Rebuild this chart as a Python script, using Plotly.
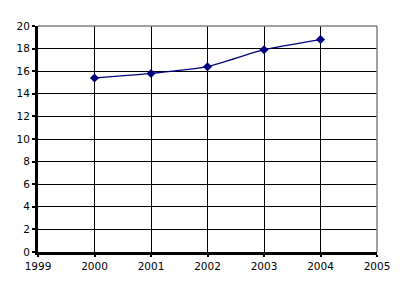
import plotly.graph_objects as go

years = [2000, 2001, 2002, 2003, 2004]
values = [15.4, 15.8, 16.4, 17.9, 18.8]
x_ticks = [1999, 2000, 2001, 2002, 2003, 2004, 2005]
y_ticks = list(range(0, 21, 2))

fig = go.Figure()
fig.add_trace(go.Scatter(
    x=years, y=values, mode="lines+markers",
    line=dict(color="#000080", width=1.3, shape="spline", smoothing=0.6),
    marker=dict(symbol="diamond", size=7, color="#000080"),
))
fig.update_layout(
    width=406, height=296,
    margin=dict(l=38, r=29, t=26, b=44),
    paper_bgcolor="white", plot_bgcolor="white",
    showlegend=False,
    font=dict(family="DejaVu Sans", size=10.5, color="black"),
    shapes=[
        dict(type="line", xref="paper", yref="paper", x0=0, x1=1, y0=1, y1=1,
             line=dict(color="#808080", width=1.5)),
        dict(type="line", xref="paper", yref="paper", x0=1, x1=1, y0=0, y1=1,
             line=dict(color="#808080", width=1.5)),
    ],
)
fig.update_xaxes(
    range=[1999, 2005], tickvals=x_ticks, ticktext=[str(v) for v in x_ticks],
    showgrid=True, gridcolor="black", gridwidth=1,
    showline=True, linecolor="black", linewidth=3,
    ticks="outside", ticklen=2, tickwidth=2, tickcolor="black",
    zeroline=False,
)
fig.update_yaxes(
    range=[0, 20], tickvals=y_ticks,
    showgrid=True, gridcolor="black", gridwidth=1,
    showline=True, linecolor="black", linewidth=3,
    ticks="outside", ticklen=3, tickwidth=2, tickcolor="black",
    zeroline=False,
)
fig.write_html("out.html")
